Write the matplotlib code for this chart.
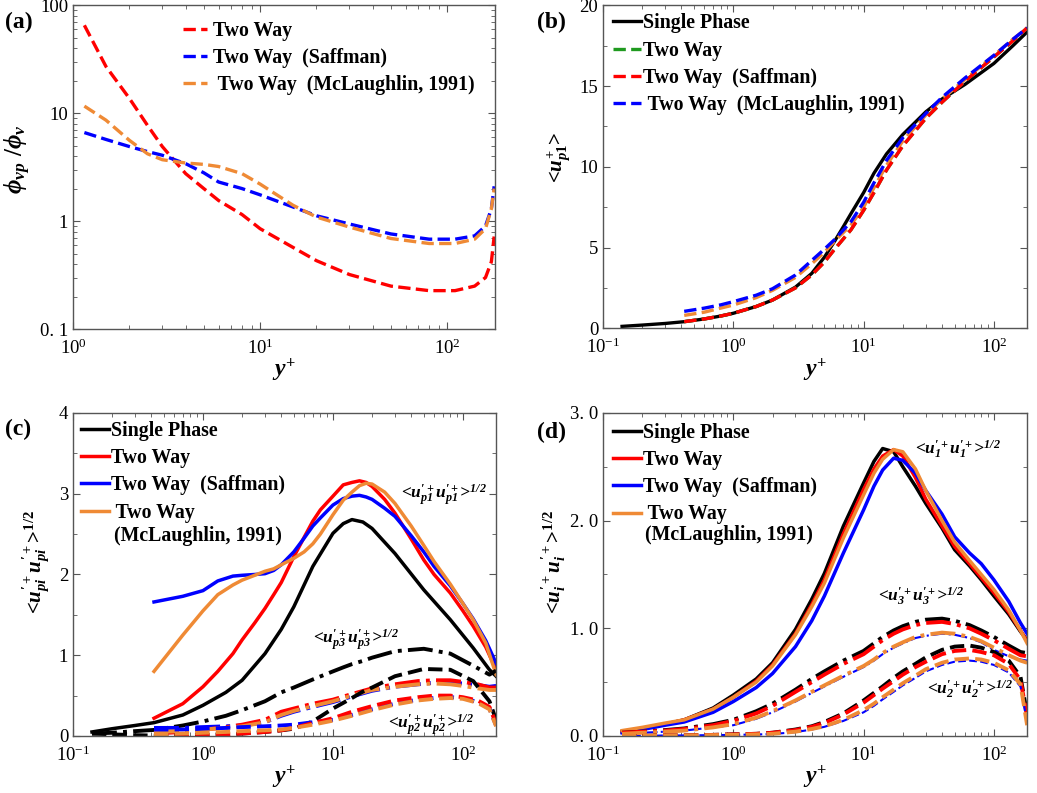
import matplotlib
matplotlib.use('Agg')
import matplotlib.pyplot as plt
from matplotlib.ticker import LogLocator, NullFormatter, FuncFormatter, MultipleLocator
import numpy as np

plt.rcParams['font.family'] = ['Liberation Serif', 'DejaVu Serif']
plt.rcParams['mathtext.fontset'] = 'custom'
plt.rcParams['mathtext.it'] = 'Liberation Serif:italic:bold'
plt.rcParams['mathtext.rm'] = 'Liberation Serif:bold'
plt.rcParams['mathtext.bf'] = 'Liberation Serif:bold'
plt.rcParams['lines.solid_joinstyle'] = 'round'
plt.rcParams['lines.dash_joinstyle'] = 'round'

RED = '#ff0000'
BLUE = '#0000ff'
ORANGE = '#ef8a35'
GREEN = '#1f9a1f'
BLACK = '#000000'

# (a) particle volume fraction ratio
ya_x = [1.15, 1.5, 2, 2.5, 3, 4, 5, 6, 8, 10, 15, 20, 30, 50, 80, 110, 140, 160, 172, 178]
phi_two = [65, 27, 13.7, 7.7, 4.9, 2.75, 2.0, 1.55, 1.15, 0.85, 0.57, 0.43, 0.32, 0.25, 0.227, 0.227, 0.25, 0.3, 0.42, 0.72]
phi_saff = [6.6, 5.7, 4.9, 4.4, 4.07, 3.4, 2.8, 2.3, 2.0, 1.75, 1.35, 1.12, 0.94, 0.76, 0.68, 0.68, 0.73, 0.9, 1.3, 2.1]
phi_mcl = [11.6, 8.6, 5.6, 4.2, 3.7, 3.45, 3.35, 3.2, 2.75, 2.2, 1.4, 1.09, 0.88, 0.69, 0.62, 0.62, 0.68, 0.85, 1.3, 2.0]

# (b) mean streamwise particle velocity
yb_sp = [0.14, 0.2, 0.3, 0.42, 0.6, 0.8, 1, 1.5, 2, 3, 4, 5, 6, 7, 8, 10, 12, 15, 20, 30, 40, 60, 100, 140, 180]
u_sp = [0.12, 0.2, 0.3, 0.41, 0.58, 0.76, 0.93, 1.35, 1.75, 2.55, 3.4, 4.4, 5.4, 6.3, 7.1, 8.4, 9.6, 10.8, 12.0, 13.4, 14.2, 15.1, 16.4, 17.5, 18.35]
yb_tw = [0.42, 0.6, 0.8, 1, 1.5, 2, 3, 4, 5, 6, 8, 10, 12, 15, 20, 30, 40, 60, 100, 140, 180]
u_saff = [0.41, 0.58, 0.76, 0.93, 1.35, 1.75, 2.5, 3.3, 4.1, 4.9, 6.1, 7.3, 8.4, 9.8, 11.3, 13.0, 14.0, 15.3, 16.8, 17.8, 18.6]
u_two = u_saff
u_mcl = [1.05, 1.25, 1.45, 1.65, 2.05, 2.45, 3.3, 4.2, 4.9, 5.5, 6.6, 7.8, 9.0, 10.4, 11.8, 13.3, 14.3, 15.5, 16.9, 17.9, 18.6]
u_orange = [0.8, 1.0, 1.25, 1.44, 1.9, 2.35, 3.15, 4.0, 4.7, 5.4, 6.4, 7.5, 8.7, 10.1, 11.6, 13.2, 14.2, 15.4, 16.9, 17.9, 18.6]

# (c) particle rms velocities
yc_sp = [0.14, 0.2, 0.3, 0.42, 0.7, 1, 1.5, 2, 3, 4, 5, 7, 10, 12, 14, 17, 20, 30, 50, 80, 120, 160, 180]
cp1_sp = [0.05, 0.09, 0.13, 0.165, 0.26, 0.38, 0.54, 0.69, 1.02, 1.32, 1.6, 2.1, 2.51, 2.63, 2.68, 2.65, 2.57, 2.26, 1.81, 1.44, 1.09, 0.82, 0.74]
cp3_sp = [0.03, 0.04, 0.06, 0.075, 0.13, 0.18, 0.25, 0.32, 0.43, 0.54, 0.6, 0.7, 0.8, 0.85, 0.89, 0.93, 0.97, 1.05, 1.08, 1.02, 0.87, 0.76, 0.81]
cp2_sp = [0.03, 0.02, 0.01, 0.005, 0.01, 0.015, 0.02, 0.03, 0.05, 0.07, 0.09, 0.18, 0.34, 0.41, 0.47, 0.55, 0.6, 0.74, 0.83, 0.82, 0.68, 0.43, 0.2]

yc_tw = [0.42, 0.7, 1, 1.3, 1.7, 2, 2.5, 3, 3.5, 4, 5, 6, 7, 8, 10, 12, 14, 16, 18, 20, 25, 30, 40, 50, 60, 80, 100, 120, 150, 180]
cp1_two = [0.22, 0.40, 0.61, 0.8, 1.02, 1.19, 1.4, 1.58, 1.75, 1.9, 2.22, 2.46, 2.66, 2.8, 2.97, 3.11, 3.14, 3.16, 3.14, 3.09, 2.93, 2.76, 2.44, 2.18, 2.0, 1.77, 1.55, 1.36, 1.1, 0.82]
cp1_saff = [1.66, 1.73, 1.80, 1.92, 1.98, 1.99, 2.0, 2.01, 2.05, 2.12, 2.28, 2.45, 2.6, 2.7, 2.86, 2.94, 2.97, 2.98, 2.96, 2.93, 2.82, 2.72, 2.48, 2.28, 2.1, 1.86, 1.64, 1.45, 1.18, 0.9]
cp1_mcl = [0.8, 1.25, 1.55, 1.75, 1.87, 1.93, 1.99, 2.04, 2.07, 2.12, 2.2, 2.28, 2.38, 2.5, 2.74, 2.92, 3.02, 3.1, 3.13, 3.12, 3.02, 2.88, 2.6, 2.36, 2.16, 1.88, 1.64, 1.44, 1.15, 0.76]

yc_b = [0.42, 0.7, 1, 1.5, 2, 3, 4, 5, 7, 10, 14, 20, 30, 45, 60, 80, 100, 130, 160, 180]
cp3_two = [0.03, 0.05, 0.075, 0.11, 0.14, 0.2, 0.3, 0.34, 0.4, 0.45, 0.52, 0.59, 0.64, 0.68, 0.69, 0.69, 0.67, 0.64, 0.6, 0.6]
cp3_saff = [0.1, 0.1, 0.11, 0.12, 0.13, 0.17, 0.25, 0.3, 0.36, 0.42, 0.49, 0.56, 0.61, 0.64, 0.66, 0.66, 0.65, 0.63, 0.61, 0.62]
cp3_mcl = [0.05, 0.06, 0.08, 0.1, 0.12, 0.17, 0.26, 0.31, 0.37, 0.43, 0.5, 0.57, 0.61, 0.64, 0.65, 0.64, 0.62, 0.59, 0.57, 0.57]
cp2_two = [0.0, 0.005, 0.01, 0.02, 0.03, 0.05, 0.07, 0.1, 0.16, 0.22, 0.3, 0.37, 0.44, 0.48, 0.5, 0.5, 0.48, 0.44, 0.36, 0.15]
cp2_saff = [0.08, 0.08, 0.09, 0.1, 0.11, 0.12, 0.13, 0.14, 0.17, 0.2, 0.26, 0.33, 0.4, 0.45, 0.47, 0.48, 0.47, 0.42, 0.34, 0.13]
cp2_mcl = [0.02, 0.03, 0.04, 0.05, 0.06, 0.07, 0.08, 0.1, 0.14, 0.19, 0.25, 0.32, 0.39, 0.44, 0.46, 0.47, 0.46, 0.41, 0.33, 0.12]

# (d) fluid rms velocities
yd = [0.14, 0.2, 0.3, 0.42, 0.7, 1, 1.5, 2, 3, 4, 5, 7, 10, 12, 14, 17, 20, 25, 30, 40, 50, 65, 80, 100, 130, 160, 180]
d1_sp = [0.04, 0.07, 0.11, 0.15, 0.26, 0.38, 0.53, 0.68, 0.99, 1.27, 1.51, 1.95, 2.35, 2.55, 2.67, 2.64, 2.5, 2.32, 2.16, 1.93, 1.73, 1.58, 1.45, 1.3, 1.13, 0.97, 0.89]
d1_two = [0.04, 0.07, 0.11, 0.15, 0.25, 0.36, 0.51, 0.66, 0.95, 1.22, 1.45, 1.88, 2.29, 2.48, 2.6, 2.66, 2.6, 2.4, 2.2, 1.95, 1.76, 1.6, 1.47, 1.33, 1.15, 0.98, 0.88]
d1_saff = [0.03, 0.06, 0.1, 0.13, 0.22, 0.32, 0.45, 0.58, 0.83, 1.07, 1.3, 1.7, 2.1, 2.32, 2.47, 2.58, 2.56, 2.44, 2.28, 2.06, 1.85, 1.7, 1.6, 1.45, 1.25, 1.05, 0.95]
d1_mcl = [0.05, 0.08, 0.12, 0.15, 0.25, 0.36, 0.5, 0.65, 0.94, 1.2, 1.42, 1.84, 2.24, 2.44, 2.57, 2.66, 2.64, 2.48, 2.28, 2.0, 1.8, 1.63, 1.5, 1.36, 1.17, 0.98, 0.86]
d3_sp = [0.03, 0.04, 0.055, 0.07, 0.11, 0.15, 0.23, 0.3, 0.43, 0.53, 0.6, 0.7, 0.79, 0.86, 0.92, 0.98, 1.02, 1.06, 1.08, 1.09, 1.07, 1.03, 0.98, 0.92, 0.84, 0.78, 0.77]
d3_two = [0.03, 0.04, 0.05, 0.065, 0.1, 0.14, 0.21, 0.28, 0.41, 0.5, 0.57, 0.67, 0.76, 0.83, 0.89, 0.95, 0.99, 1.03, 1.05, 1.06, 1.04, 1.0, 0.95, 0.89, 0.81, 0.75, 0.74]
d3_saff = [0.02, 0.03, 0.04, 0.05, 0.08, 0.1, 0.16, 0.22, 0.32, 0.4, 0.46, 0.55, 0.64, 0.7, 0.76, 0.82, 0.86, 0.91, 0.93, 0.95, 0.94, 0.91, 0.87, 0.8, 0.74, 0.71, 0.7]
d3_mcl = [0.02, 0.03, 0.04, 0.05, 0.08, 0.11, 0.17, 0.23, 0.33, 0.41, 0.47, 0.56, 0.65, 0.71, 0.77, 0.83, 0.87, 0.92, 0.94, 0.96, 0.95, 0.92, 0.88, 0.82, 0.75, 0.7, 0.68]
d2_sp = [0.0, 0.0, 0.005, 0.005, 0.01, 0.015, 0.02, 0.03, 0.06, 0.09, 0.13, 0.21, 0.33, 0.4, 0.46, 0.54, 0.6, 0.67, 0.73, 0.8, 0.83, 0.84, 0.82, 0.78, 0.7, 0.55, 0.2]
d2_two = [0.0, 0.0, 0.005, 0.005, 0.01, 0.015, 0.02, 0.03, 0.055, 0.085, 0.12, 0.2, 0.31, 0.38, 0.44, 0.51, 0.57, 0.64, 0.69, 0.76, 0.79, 0.8, 0.78, 0.75, 0.67, 0.52, 0.18]
d2_saff = [0.0, 0.0, 0.005, 0.005, 0.008, 0.01, 0.014, 0.018, 0.036, 0.06, 0.085, 0.14, 0.22, 0.28, 0.34, 0.41, 0.47, 0.54, 0.6, 0.66, 0.69, 0.7, 0.69, 0.66, 0.59, 0.46, 0.12]
d2_mcl = [0.0, 0.0, 0.005, 0.005, 0.008, 0.01, 0.015, 0.02, 0.04, 0.065, 0.09, 0.15, 0.24, 0.3, 0.36, 0.43, 0.49, 0.56, 0.62, 0.68, 0.71, 0.72, 0.71, 0.68, 0.61, 0.48, 0.1]

LABELS = ['Single Phase', 'Two Way', 'Two Way  (Saffman)', ' Two Way  (McLaughlin, 1991)']

TICK_FS = 13.5
LEG_FS = 14.3
LAB_FS = 17
SPINE = '#555555'
LEG_KW = dict(loc='upper left', frameon=False, borderaxespad=0, borderpad=0,
              labelspacing=0.36, prop={'weight': 'bold', 'size': LEG_FS})


def log_label(v, pos):
    return r'$\mathregular{10^{%d}}$' % int(round(np.log10(v)))


def style_axes(ax):
    for s in ax.spines.values():
        s.set_color(SPINE)
        s.set_linewidth(1.0)
    ax.tick_params(which='both', direction='in', top=True, right=True,
                   labelsize=TICK_FS, color=SPINE)
    ax.tick_params(which='major', length=5)
    ax.tick_params(which='minor', length=3)
    ax.tick_params(axis='x', pad=7)
    ax.set_xscale('log')
    ax.xaxis.set_major_formatter(FuncFormatter(log_label))
    ax.xaxis.set_minor_locator(LogLocator(base=10, subs=np.arange(2, 10)))
    ax.xaxis.set_minor_formatter(NullFormatter())
    ax.set_xlabel(r'$y^{+}$', fontsize=LAB_FS, labelpad=-1)


def corr(sub):
    # <u'+ u'+>^1/2 with the angle brackets kept out of math spacing
    return r"<$u^{\prime+}_{%s}u^{\prime+}_{%s}$>$^{1/2}$" % (sub, sub)


def annot(ax, x, y, sub):
    ax.text(x, y, r"<$\mathregular{u^{\prime+}_{%s}u^{\prime+}_{%s}}$>$\mathregular{^{1/2}}$" % (sub, sub),
            transform=ax.transAxes, fontsize=12.5, style='italic', fontweight='bold',
            va='center', ha='left')


fig = plt.figure(figsize=(10.37, 7.93), dpi=100)
ax_a = fig.add_axes([0.0704, 0.585, 0.407, 0.4086])
ax_b = fig.add_axes([0.5815, 0.586, 0.409, 0.4073])
ax_c = fig.add_axes([0.0704, 0.0719, 0.408, 0.4073])
ax_d = fig.add_axes([0.5815, 0.0719, 0.409, 0.4073])

# ---- (a)
lw = 2.4
ax_a.plot(ya_x, phi_two, '--', color=RED, lw=lw, label='Two Way')
ax_a.plot(ya_x, phi_saff, '--', color=BLUE, lw=lw, label='Two Way  (Saffman)')
ax_a.plot(ya_x, phi_mcl, '--', color=ORANGE, lw=lw, label=' Two Way  (McLaughlin, 1991)')
style_axes(ax_a)
ax_a.set_yscale('log')
ax_a.set_xlim(1, 180)
ax_a.set_ylim(0.1, 100)
ax_a.set_xticks([1, 10, 100])
ax_a.set_yticks([0.1, 1, 10, 100])
ax_a.set_yticklabels(['0. 1', '1', '10', '100'])
ax_a.yaxis.set_minor_locator(LogLocator(base=10, subs=np.arange(2, 10)))
ax_a.yaxis.set_minor_formatter(NullFormatter())
ax_a.set_ylabel(r'$\phi_{vp}\ /\phi_{v}$', fontsize=18)
ax_a.yaxis.set_label_coords(-0.095, 0.525)
ax_a.legend(bbox_to_anchor=(0.261, 0.951), handlelength=1.2, handletextpad=0.3, **LEG_KW)

# ---- (b)
ax_b.plot(yb_sp, u_sp, '-', color=BLACK, lw=lw, label='Single Phase')
ax_b.plot(yb_tw, u_two, '--', color=GREEN, lw=lw, label='Two Way')
ax_b.plot(yb_tw, u_orange, '--', color=ORANGE, lw=lw)
ax_b.plot(yb_tw, u_saff, '--', color=RED, lw=lw, label='Two Way  (Saffman)')
ax_b.plot(yb_tw, u_mcl, '--', color=BLUE, lw=lw, label=' Two Way  (McLaughlin, 1991)')
style_axes(ax_b)
ax_b.set_xlim(0.1, 180)
ax_b.set_ylim(0, 20)
ax_b.set_xticks([0.1, 1, 10, 100])
ax_b.yaxis.set_major_locator(MultipleLocator(5))
ax_b.yaxis.set_minor_locator(MultipleLocator(2.5))
ax_b.set_ylabel(r'<$u^{+}_{p1}$>', fontsize=15, fontweight='bold')
ax_b.yaxis.set_label_coords(-0.071, 0.529)
ax_b.legend(bbox_to_anchor=(0.024, 0.975), handlelength=1.4, handletextpad=0.1, **LEG_KW)

# ---- (c)
lw_s = 2.5
lw_b = 2.8
ax_c.plot(yc_sp, cp1_sp, '-', color=BLACK, lw=lw_s, label=LABELS[0])
ax_c.plot(yc_tw, cp1_two, '-', color=RED, lw=lw_s, label=LABELS[1])
ax_c.plot(yc_tw, cp1_saff, '-', color=BLUE, lw=lw_s, label=LABELS[2])
ax_c.plot(yc_tw, cp1_mcl, '-', color=ORANGE, lw=lw_s, label=' Two Way')
ax_c.plot(yc_sp, cp3_sp, '-.', color=BLACK, lw=lw_b)
ax_c.plot(yc_b, cp3_saff, '-.', color=BLUE, lw=lw_b)
ax_c.plot(yc_b, cp3_two, '-.', color=RED, lw=lw_b)
ax_c.plot(yc_b, cp3_mcl, '-.', color=ORANGE, lw=lw_b)
ax_c.plot(yc_sp, cp2_sp, '--', color=BLACK, lw=lw_b)
ax_c.plot(yc_b, cp2_saff, '--', color=BLUE, lw=lw_b)
ax_c.plot(yc_b, cp2_two, '--', color=RED, lw=lw_b)
ax_c.plot(yc_b, cp2_mcl, '--', color=ORANGE, lw=lw_b)
style_axes(ax_c)
ax_c.set_xlim(0.1, 180)
ax_c.set_ylim(0, 4)
ax_c.set_xticks([0.1, 1, 10, 100])
ax_c.yaxis.set_major_locator(MultipleLocator(1))
ax_c.yaxis.set_minor_locator(MultipleLocator(0.5))
ax_c.set_ylabel(corr('pi'), fontsize=15, fontweight='bold')
ax_c.yaxis.set_label_coords(-0.052, 0.539)
ax_c.legend(bbox_to_anchor=(0.019, 0.975), handlelength=1.4, handletextpad=0.1, **LEG_KW)
ax_c.text(0.097, 0.619, '(McLaughlin, 1991)', transform=ax_c.transAxes,
          fontsize=LEG_FS, fontweight='bold', va='center', ha='left')
annot(ax_c, 0.775, 0.746, 'p1')
annot(ax_c, 0.567, 0.297, 'p3')
annot(ax_c, 0.745, 0.034, 'p2')

# ---- (d)
ax_d.plot(yd, d1_sp, '-', color=BLACK, lw=lw_s, label=LABELS[0])
ax_d.plot(yd, d1_two, '-', color=RED, lw=lw_s, label=LABELS[1])
ax_d.plot(yd, d1_saff, '-', color=BLUE, lw=lw_s, label=LABELS[2])
ax_d.plot(yd, d1_mcl, '-', color=ORANGE, lw=lw_s, label=' Two Way')
ax_d.plot(yd, d3_sp, '-.', color=BLACK, lw=lw_b)
ax_d.plot(yd, d3_two, '-.', color=RED, lw=lw_b)
ax_d.plot(yd, d3_saff, '-.', color=BLUE, lw=1.5)
ax_d.plot(yd, d3_mcl, '-.', color=ORANGE, lw=lw_b)
ax_d.plot(yd, d2_sp, '--', color=BLACK, lw=lw_b)
ax_d.plot(yd, d2_two, '--', color=RED, lw=lw_b)
ax_d.plot(yd, d2_saff, '--', color=BLUE, lw=1.5)
ax_d.plot(yd, d2_mcl, '--', color=ORANGE, lw=lw_b)
style_axes(ax_d)
ax_d.set_xlim(0.1, 180)
ax_d.set_ylim(0, 3)
ax_d.set_xticks([0.1, 1, 10, 100])
ax_d.set_yticks([0, 1, 2, 3])
ax_d.set_yticklabels(['0. 0', '1. 0', '2. 0', '3. 0'])
ax_d.yaxis.set_minor_locator(MultipleLocator(0.5))
ax_d.set_ylabel(corr('i'), fontsize=15, fontweight='bold')
ax_d.yaxis.set_label_coords(-0.083, 0.539)
ax_d.legend(bbox_to_anchor=(0.024, 0.969), handlelength=1.4, handletextpad=0.1, **LEG_KW)
ax_d.text(0.099, 0.622, '(McLaughlin, 1991)', transform=ax_d.transAxes,
          fontsize=LEG_FS, fontweight='bold', va='center', ha='left')
annot(ax_d, 0.736, 0.885, '1')
annot(ax_d, 0.649, 0.43, '3')
annot(ax_d, 0.764, 0.142, '2')

# panel tags
for tag, x, y in [('(a)', 0.005, 0.972), ('(b)', 0.518, 0.972),
                  ('(c)', 0.005, 0.458), ('(d)', 0.518, 0.455)]:
    fig.text(x, y, tag, fontsize=17, fontweight='bold', va='center', ha='left')

fig.savefig('out.png', dpi=100)
